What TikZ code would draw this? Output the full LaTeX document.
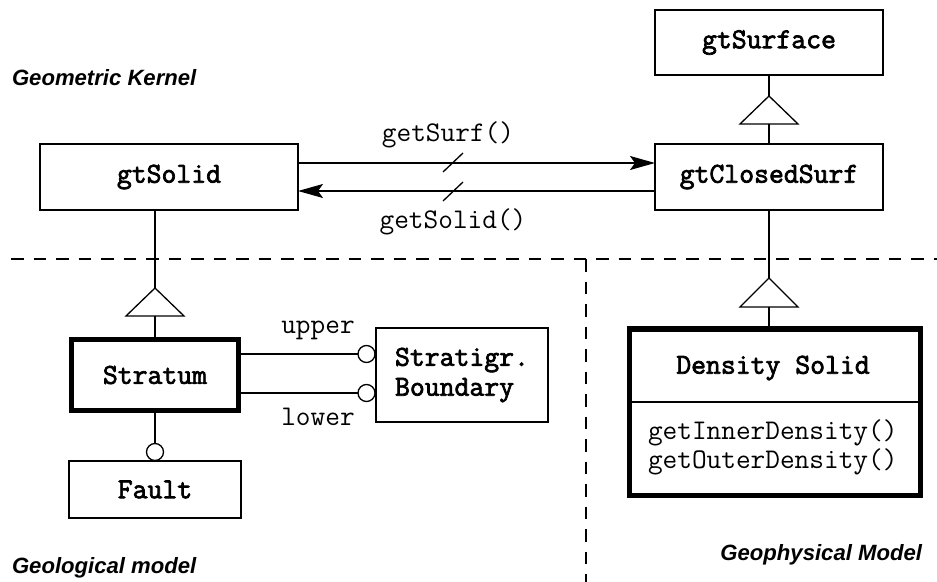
\documentclass[tikz,border=0pt]{standalone}
\usepackage{fontspec}
\newfontfamily\labf{Liberation Sans}
\newfontfamily\tbold{Latin Modern Mono}[FakeBold=2.5]
\usetikzlibrary{arrows.meta}
\begin{document}
\begin{tikzpicture}[x=1bp,y=-1bp,
  every node/.style={inner sep=0pt, outer sep=0pt},
  ln/.style={line width=1.3bp},
  cls/.style={draw, line width=1.3bp, font=\tbold\fontsize{29}{30}\selectfont, align=center},
  thickcls/.style={cls, line width=5bp},
  mtxt/.style={font=\ttfamily\fontsize{28.6}{29}\selectfont},
  region/.style={font=\labf\bfseries\itshape\fontsize{22.2}{26}\selectfont},
  lolli/.style={circle, draw, line width=1.3bp, fill=white, minimum size=17bp},
  gen/.style={ln, fill=white},
  sepline/.style={line width=1.5bp, dash pattern=on 12.5bp off 10bp},
  arr/.style={ln, -{Stealth[length=25bp,width=14bp,inset=5bp]}}
]
\fill[white] (0,0) rectangle (937,582);
\useasboundingbox (0,0) rectangle (937,582);

% region labels
\node[region, anchor=west] (lk) at (12,78) {Geometric Kernel};
\node[region, anchor=west] (lg) at (12,568) {Geological model};
\node[region, anchor=east] (lp) at (922,555) {Geophysical Model};

% dashed separators
\coordinate (dl) at (11,259);
\coordinate (dr) at (937,259);
\coordinate (dv1) at (586,259);
\coordinate (dv2) at (586,582);
\draw[sepline] (dl) -- (dr);
\draw[sepline] (dv1) -- (dv2);

% classes
\node[cls, minimum width=228bp, minimum height=65bp] (surf) at (769,42.5) {gtSurface};
\node[cls, minimum width=228bp, minimum height=66bp] (closed) at (769,177) {gtClosedSurf};
\node[cls, minimum width=258bp, minimum height=66bp] (solid) at (169,177) {gtSolid};
\node[thickcls, minimum width=166.5bp, minimum height=70.5bp] (strat) at (155,375) {Stratum};
\node[cls, minimum width=172bp, minimum height=57bp] (fault) at (155,489.5) {Fault};
\node[cls, minimum width=172bp, minimum height=94bp, align=left] (bound) at (462,375) {Stratigr.\\Boundary};
\node[thickcls, minimum width=291bp, minimum height=166bp] (dens) at (774.5,412) {};
\node[cls, draw=none] (densname) at (773,368) {Density Solid};
\node[mtxt, anchor=west, align=left] (densops) at (648,447.5) {getInnerDensity()\\getOuterDensity()};
\coordinate (sepy) at (0,402);
\draw[ln] (dens.west |- sepy) -- (dens.east |- sepy);

% generalization gtClosedSurf -> gtSurface
\coordinate (t1) at (769,96);
\draw[ln] (surf.south) -- (t1);
\draw[gen] (t1) -- ++(-29,28) -- ++(58,0) -- cycle;
\coordinate (t1b) at (769,124);
\draw[ln] (t1b) -- (closed.north);

% generalization Stratum -> gtSolid
\coordinate (t2) at (155,288);
\coordinate (t2b) at (155,316);
\draw[ln] (t2 |- solid.south) -- (t2);
\draw[gen] (t2) -- ++(-29,28) -- ++(58,0) -- cycle;
\draw[ln] (t2b) -- (strat.north);

% generalization Density Solid -> gtClosedSurf
\coordinate (t3) at (769,278);
\coordinate (t3b) at (769,307);
\draw[ln] (closed.south) -- (t3);
\draw[gen] (t3) -- ++(-29,29) -- ++(58,0) -- cycle;
\draw[ln] (t3b) -- (t3b |- dens.north);

% navigations
\coordinate (a1s) at (298,163);
\coordinate (a2s) at (655,191);
\draw[arr] (a1s) -- (closed.west |- a1s);
\draw[arr] (a2s) -- (solid.east |- a2s);
\draw[ln] (443,172) -- (463,153);
\draw[ln] (443,201) -- (463,182);
\node[mtxt] (gs) at (448,135) {getSurf()};
\node[mtxt] (gso) at (453,222) {getSolid()};

% associations Stratum -- Stratigr. Boundary
\node[lolli] (cu) at (366.5,354) {};
\node[lolli] (cl) at (366.5,393) {};
\draw[ln] (strat.east |- cu) -- (cu.west);
\draw[ln] (strat.east |- cl) -- (cl.west);
\node[mtxt] (up) at (318,330) {upper};
\node[mtxt] (lo) at (318,417) {lower};

% Stratum -- Fault
\node[lolli] (cf) at (155,452) {};
\draw[ln] (strat.south) -- (cf.north);
\end{tikzpicture}
\end{document}
